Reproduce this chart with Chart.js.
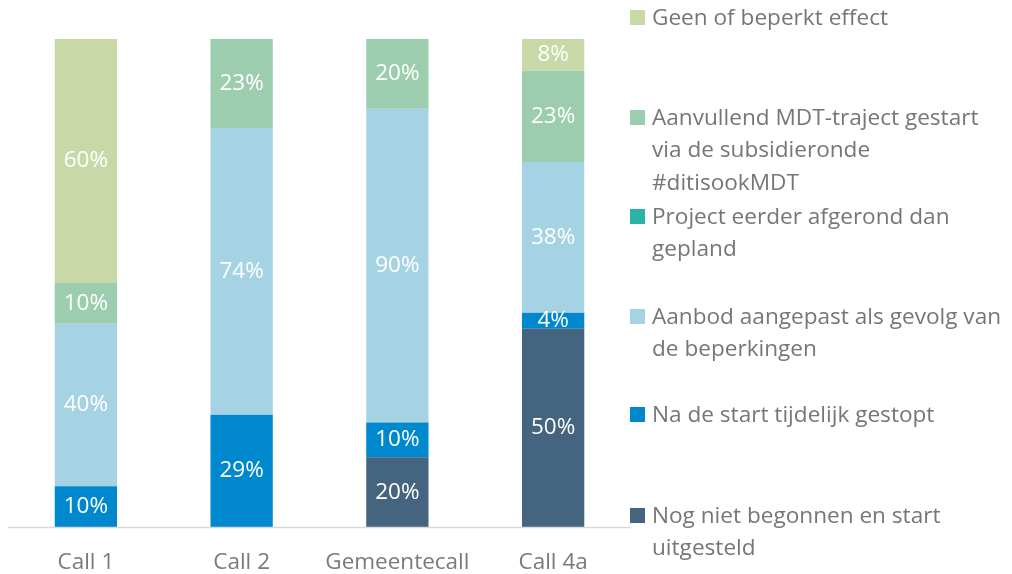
<!DOCTYPE html>
<html>
<head>
<meta charset="utf-8">
<script src="https://cdn.jsdelivr.net/npm/chart.js@4/dist/chart.umd.min.js"></script>
<style>
  html, body { margin: 0; padding: 0; background: #ffffff; }
  #wrap { position: relative; width: 1012px; height: 574px; overflow: hidden; }
  #chart { position: absolute; left: 0; top: 0; }
  #legend { position: absolute; left: 0; top: 0; width: 1012px; height: 574px; pointer-events: none; }
  .item { position: absolute; left: 630px; width: 382px; font-family: "Open Sans", "Noto Sans", sans-serif; font-size: 22.6px; line-height: 32.5px; color: #767676; }
  .item .sw { position: absolute; left: 0; top: 9px; width: 15px; height: 15px; }
  .item .tx { margin-left: 22px; white-space: pre; }
</style>
</head>
<body>
<div id="wrap">
  <canvas id="chart" width="1012" height="574"></canvas>
  <div id="legend"></div>
</div>
<script>
// Categories (x axis tick labels)
const categories = ["Call 1", "Call 2", "Gemeentecall", "Call 4a"];

// Series (raw values as labelled in the reference, in %), bottom to top of the stack
const nogNietBegonnen   = [0, 0, 20, 50];
const naDeStartGestopt  = [10, 29, 10, 4];
const aanbodAangepast   = [40, 74, 90, 38];
const projectAfgerond   = [0, 0, 0, 0];
const aanvullendMDT     = [10, 23, 20, 23];
const geenEffect        = [60, 0, 0, 8];

const seriesNames = [
  "Nog niet begonnen en start\nuitgesteld",
  "Na de start tijdelijk gestopt",
  "Aanbod aangepast als gevolg van\nde beperkingen",
  "Project eerder afgerond dan\ngepland",
  "Aanvullend MDT-traject gestart\nvia de subsidieronde\n#ditisookMDT",
  "Geen of beperkt effect"
];
const seriesColors = ["#44647F", "#0088CE", "#A6D3E4", "#2AB3A6", "#9DCDAF", "#C9D8A7"];
const seriesValues = [nogNietBegonnen, naDeStartGestopt, aanbodAangepast, projectAfgerond, aanvullendMDT, geenEffect];

// 100% stacked: each column scaled to its own total
const totals = categories.map((_, i) => seriesValues.reduce((s, arr) => s + arr[i], 0));

const datasets = seriesValues.map((vals, k) => ({
  label: seriesNames[k],
  data: vals.map((v, i) => v / totals[i] * 100),
  raw: vals,
  backgroundColor: seriesColors[k],
  borderWidth: 0,
  barPercentage: 0.4,
  categoryPercentage: 1.0
}));

const labelPlugin = {
  id: "segLabels",
  afterDatasetsDraw(chart) {
    const ctx = chart.ctx;
    ctx.save();
    ctx.fillStyle = "#ffffff";
    ctx.font = '22.5px "Open Sans", "Noto Sans", sans-serif';
    ctx.textAlign = "center";
    ctx.textBaseline = "middle";
    chart.data.datasets.forEach((ds, di) => {
      const meta = chart.getDatasetMeta(di);
      meta.data.forEach((bar, i) => {
        const raw = ds.raw[i];
        if (!raw) return;
        const top = Math.min(bar.y, bar.base), bottom = Math.max(bar.y, bar.base);
        ctx.fillText(raw + "%", bar.x, (top + bottom) / 2);
      });
    });
    ctx.restore();
  }
};

const axisLinePlugin = {
  id: "axisLine",
  afterDraw(chart) {
    const a = chart.chartArea, ctx = chart.ctx;
    ctx.save();
    ctx.strokeStyle = "#D9D9D9";
    ctx.lineWidth = 1.5;
    ctx.beginPath();
    ctx.moveTo(a.left, a.bottom + 0.5);
    ctx.lineTo(a.right, a.bottom + 0.5);
    ctx.stroke();
    ctx.restore();
  }
};

new Chart(document.getElementById("chart"), {
  type: "bar",
  data: { labels: categories, datasets },
  options: {
    responsive: false,
    animation: false,
    layout: { padding: { left: 8, right: 381, top: 39, bottom: 0 } },
    plugins: { legend: { display: false }, tooltip: { enabled: false }, title: { display: false } },
    scales: {
      x: {
        stacked: true,
        grid: { display: false, drawTicks: false },
        border: { display: false },
        ticks: { color: "#7A7A7A", padding: 22, font: { family: '"Open Sans", "Noto Sans", sans-serif', size: 22.5 } },
        afterFit(scale) { scale.height = 47; }
      },
      y: {
        stacked: true,
        display: false,
        min: 0,
        max: 100
      }
    }
  },
  plugins: [labelPlugin, axisLinePlugin]
});

// HTML legend (top to bottom: reverse of stacking order)
const legendTops = [17, 117, 216, 316, 414, 515];
const legend = document.getElementById("legend");
for (let j = 0; j < seriesNames.length; j++) {
  const k = seriesNames.length - 1 - j;
  const item = document.createElement("div");
  item.className = "item";
  item.style.top = (legendTops[j] - 16.25) + "px";
  const sw = document.createElement("div");
  sw.className = "sw";
  sw.style.background = seriesColors[k];
  const tx = document.createElement("div");
  tx.className = "tx";
  tx.textContent = seriesNames[k];
  item.appendChild(sw);
  item.appendChild(tx);
  legend.appendChild(item);
}
</script>
</body>
</html>
